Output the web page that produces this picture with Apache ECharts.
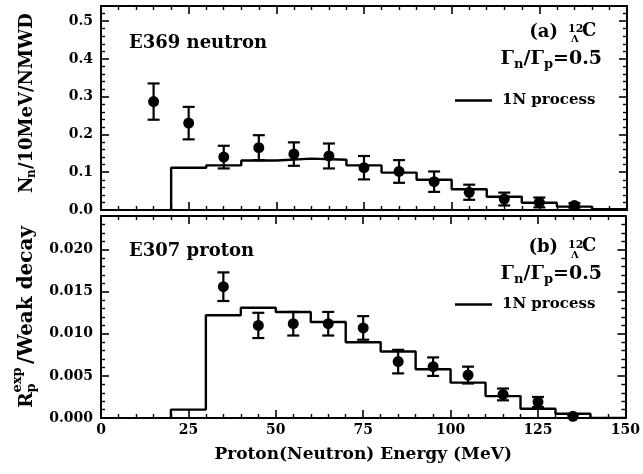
<!DOCTYPE html>
<html><head><meta charset="utf-8">
<script src="https://cdn.jsdelivr.net/npm/echarts@6/dist/echarts.min.js"></script>
<style>html,body{margin:0;padding:0;background:#fff}#c{width:643px;height:474px}</style>
</head><body><div id="c"></div>
<script>
// ---- data ----
const neutronEnergy = [15,25,35,45,55,65,75,85,95,105,115,125,135];
const neutronYield  = [0.287,0.230,0.140,0.165,0.148,0.143,0.112,0.102,0.075,0.047,0.029,0.020,0.012];
const neutronErr    = [0.048,0.043,0.030,0.033,0.031,0.033,0.031,0.030,0.027,0.020,0.017,0.013,0.006];

const protonEnergy = [35,45,55,65,75,85,95,105,115,125,135];
const protonYield  = [0.0156,0.0110,0.0112,0.0112,0.0107,0.0067,0.0061,0.0051,0.0028,0.0019,0.0002];
const protonErr    = [0.0017,0.0015,0.0014,0.0014,0.0014,0.0014,0.0011,0.0010,0.0007,0.0006,0.0002];

const binEdges    = [20,30,40,50,60,70,80,90,100,110,120,130,140,150];
const neutronCalc = [0.112,0.118,0.131,0.136,0.133,0.118,0.099,0.080,0.055,0.035,0.019,0.009,0.002];
const protonCalc  = [0.0010,0.0122,0.0131,0.0126,0.0114,0.0090,0.0079,0.0058,0.0042,0.0026,0.0011,0.0005,0];

const xTicks = [0,25,50,75,100,125,150];

// ---- helpers ----
const F = '"DejaVu Serif"';
function fnt(sz){ return 'bold ' + sz + 'px ' + F; }
function stepData(edges, vals){
  const d = [[edges[0], 0]];
  vals.forEach((v,i) => d.push([edges[i], v]));
  d.push([edges[edges.length-1], 0]);
  return d;
}
function errRender(params, api){
  const x = api.value(0), y = api.value(1), e = api.value(2);
  const lo = api.coord([x, y - e]), hi = api.coord([x, y + e]);
  const w = 6, st = {stroke:'#000', lineWidth:2.2};
  return {type:'group', children:[
    {type:'line', shape:{x1:lo[0],y1:lo[1],x2:hi[0],y2:hi[1]}, style:st},
    {type:'line', shape:{x1:lo[0]-w,y1:lo[1],x2:lo[0]+w,y2:lo[1]}, style:st},
    {type:'line', shape:{x1:hi[0]-w,y1:hi[1],x2:hi[0]+w,y2:hi[1]}, style:st}
  ]};
}
const lineSt = {color:'#000', width:2};
function xAx(grid, pos, labels){
  return {type:'value', gridIndex:grid, position:pos, min:xTicks[0], max:xTicks[xTicks.length-1], interval:xTicks[1]-xTicks[0],
    axisLine:{show:true, onZero:false, lineStyle:lineSt},
    axisTick:{show:true, inside:true, length:8, lineStyle:{color:'#000', width:1.6}},
    minorTick:{show:true, splitNumber:5, length:4, lineStyle:{color:'#000', width:1.4}},
    splitLine:{show:false}, minorSplitLine:{show:false},
    axisLabel:{show:labels, color:'#000', fontFamily:F, fontWeight:'bold', fontSize:14, margin:5}};
}
function yAx(grid, pos, max, interval, labels, dec){
  return {type:'value', gridIndex:grid, position:pos, min:0, max:max, interval:interval,
    axisLine:{show:true, onZero:false, lineStyle:lineSt},
    axisTick:{show:true, inside:true, length:8, lineStyle:{color:'#000', width:1.6}},
    minorTick:{show:true, splitNumber:5, length:4, lineStyle:{color:'#000', width:1.4}},
    splitLine:{show:false}, minorSplitLine:{show:false},
    axisLabel:{show:labels, showMaxLabel:false, color:'#000', fontFamily:F, fontWeight:'bold', fontSize:14, margin:8,
      formatter: v => v.toFixed(dec)}};
}
function legendAt(top){
  return {data:[{name:'1N process', icon:'rect'}], left:450, top:top, itemWidth:37, itemHeight:2.4, selectedMode:false,
    itemStyle:{color:'#000', opacity:1},
    textStyle:{color:'#000', fontFamily:F, fontWeight:'bold', fontSize:15, padding:[0,0,0,5]}};
}

const chart = echarts.init(document.getElementById('c'), null, {renderer:'canvas'});
const xa2 = xAx(1, 'bottom', true);
xa2.name = 'Proton(Neutron) Energy (MeV)';
xa2.nameLocation = 'middle';
xa2.nameGap = 28;
xa2.nameTextStyle = {color:'#000', fontFamily:F, fontWeight:'bold', fontSize:17};

const ptStyle = {color:'#000', opacity:1};

chart.setOption({
  animation:false,
  backgroundColor:'#fff',
  grid:[
    {left:101, right:16, top:6, height:204},
    {left:101, right:16, top:216, height:202}
  ],
  xAxis:[ xAx(0,'bottom',false), xAx(0,'top',false), xa2, xAx(1,'top',false) ],
  yAxis:[ yAx(0,'left',0.54,0.1,true,1), yAx(0,'right',0.54,0.1,false,1),
          yAx(1,'left',0.024,0.005,true,3), yAx(1,'right',0.024,0.005,false,3) ],
  legend:[ legendAt(88), legendAt(292) ],
  series:[
    {name:'1N process', type:'line', xAxisIndex:0, yAxisIndex:0, step:'end', symbol:'none',
     lineStyle:{color:'#000', width:2.4}, itemStyle:{color:'#000'}, data:stepData(binEdges, neutronCalc), z:2},
    {name:'E369 neutron', type:'scatter', xAxisIndex:0, yAxisIndex:0, symbol:'circle', symbolSize:11,
     itemStyle:ptStyle, data:neutronEnergy.map((x,i)=>[x, neutronYield[i]]), z:4},
    {name:'E369 err', type:'custom', xAxisIndex:0, yAxisIndex:0, renderItem:errRender, encode:{x:0,y:1},
     data:neutronEnergy.map((x,i)=>[x, neutronYield[i], neutronErr[i]]), z:3},
    {name:'1N process', type:'line', xAxisIndex:2, yAxisIndex:2, step:'end', symbol:'none',
     lineStyle:{color:'#000', width:2.4}, itemStyle:{color:'#000'}, data:stepData(binEdges, protonCalc), z:2},
    {name:'E307 proton', type:'scatter', xAxisIndex:2, yAxisIndex:2, symbol:'circle', symbolSize:11,
     itemStyle:ptStyle, data:protonEnergy.map((x,i)=>[x, protonYield[i]]), z:4},
    {name:'E307 err', type:'custom', xAxisIndex:2, yAxisIndex:2, renderItem:errRender, encode:{x:0,y:1},
     data:protonEnergy.map((x,i)=>[x, protonYield[i], protonErr[i]]), z:3}
  ],
  graphic:[
    {type:'text', x:129, y:43, style:{text:'E369 neutron', fill:'#000', font:fnt(18), align:'left', verticalAlign:'middle'}},
    {type:'text', x:129, y:251, style:{text:'E307 proton', fill:'#000', font:fnt(18), align:'left', verticalAlign:'middle'}},
    {type:'text', x:558, y:32, style:{text:'(a)', fill:'#000', font:fnt(18), align:'right', verticalAlign:'middle'}},
    {type:'text', x:568, y:29, style:{text:'12', fill:'#000', font:fnt(11), align:'left', verticalAlign:'middle'}},
    {type:'text', x:571, y:39.5, style:{text:'Λ', fill:'#000', font:fnt(10), align:'left', verticalAlign:'middle'}},
    {type:'text', x:582, y:31.5, style:{text:'C', fill:'#000', font:fnt(18), align:'left', verticalAlign:'middle'}},
    {type:'text', x:602, y:59, style:{text:'{g|Γ}{s|n}{g|/Γ}{s|p}{g|=0.5}', align:'right', verticalAlign:'middle',
      rich:{g:{font:fnt(19), fill:'#000'}, s:{font:fnt(13), fill:'#000', padding:[12,0,0,0]}}}},
    {type:'text', x:558, y:247, style:{text:'(b)', fill:'#000', font:fnt(18), align:'right', verticalAlign:'middle'}},
    {type:'text', x:568, y:245, style:{text:'12', fill:'#000', font:fnt(11), align:'left', verticalAlign:'middle'}},
    {type:'text', x:571, y:255, style:{text:'Λ', fill:'#000', font:fnt(10), align:'left', verticalAlign:'middle'}},
    {type:'text', x:582, y:246.5, style:{text:'C', fill:'#000', font:fnt(18), align:'left', verticalAlign:'middle'}},
    {type:'text', x:602, y:274, style:{text:'{g|Γ}{s|n}{g|/Γ}{s|p}{g|=0.5}', align:'right', verticalAlign:'middle',
      rich:{g:{font:fnt(19), fill:'#000'}, s:{font:fnt(13), fill:'#000', padding:[12,0,0,0]}}}},
    {type:'group', x:27, y:193, rotation:Math.PI/2, children:[
      {type:'text', x:0, y:0, style:{text:'N', fill:'#000', font:fnt(18), align:'left', verticalAlign:'middle'}},
      {type:'text', x:15, y:5, style:{text:'n', fill:'#000', font:fnt(12), align:'left', verticalAlign:'middle'}},
      {type:'text', x:24, y:0, style:{text:'/10MeV/NMWD', fill:'#000', font:fnt(18), align:'left', verticalAlign:'middle'}}
    ]},
    {type:'group', x:27, y:408, rotation:Math.PI/2, children:[
      {type:'text', x:0, y:0, style:{text:'R', fill:'#000', font:fnt(19), align:'left', verticalAlign:'middle'}},
      {type:'text', x:15.5, y:5, style:{text:'p', fill:'#000', font:fnt(13), align:'left', verticalAlign:'middle'}},
      {type:'text', x:15.5, y:-9, style:{text:'exp', fill:'#000', font:fnt(13), align:'left', verticalAlign:'middle'}},
      {type:'text', x:44, y:0, style:{text:'/Weak decay', fill:'#000', font:fnt(20), align:'left', verticalAlign:'middle'}}
    ]}
  ]
});
</script>
</body></html>
